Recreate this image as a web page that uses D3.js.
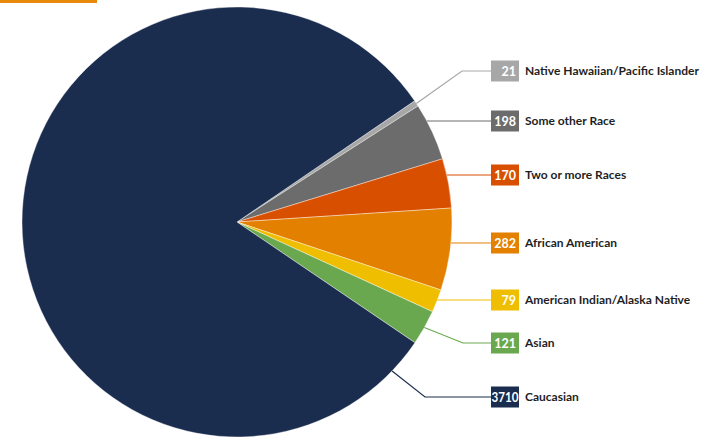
<!DOCTYPE html>
<html>
<head>
<meta charset="utf-8">
<script src="https://cdn.jsdelivr.net/npm/d3@7.9.0/dist/d3.min.js"></script>
<style>
  html, body { margin: 0; padding: 0; background: #fff; }
  svg { display: block; }
  .lbl { font-family: Lato, "Open Sans", sans-serif; font-weight: 700; font-size: 12px; fill: #1f1f1f; }
  .val { font-family: Lato, "Open Sans", sans-serif; font-weight: 700; font-size: 12.5px; fill: #fff; }
</style>
</head>
<body>
<svg id="chart" width="707" height="440"></svg>
<script>
// data, in drawing order (clockwise from the top-right)
const categories = [
  "Native Hawaiian/Pacific Islander",
  "Some other Race",
  "Two or more Races",
  "African American",
  "American Indian/Alaska Native",
  "Asian",
  "Caucasian"
];
const values = [21, 198, 170, 282, 79, 121, 3710];
const colors = ["#a7a7a7", "#6c6c6c", "#d94f00", "#e48000", "#f0be00", "#6aa84f", "#1b2d4f"];

// label layout
const labelY = [71, 121, 175, 243, 300, 343, 397];
const elbowX = [462, null, null, null, null, 463, 425];

function renderPie() {
  const svg = d3.select("#chart");
  const cx = 237, cy = 222, r = 215;
  const start = 55.7 * Math.PI / 180;

  // orange accent bar top-left
  svg.append("rect")
    .attr("x", 0).attr("y", 0)
    .attr("width", 97).attr("height", 3)
    .attr("fill", "#e8890c");

  const data = categories.map((c, i) => ({ label: c, value: values[i], color: colors[i], i }));

  const pie = d3.pie().value((d) => d.value).sort(null)
    .startAngle(start).endAngle(start + 2 * Math.PI);
  const arcs = pie(data);
  const arcGen = d3.arc().innerRadius(0).outerRadius(r);

  const g = svg.append("g").attr("transform", `translate(${cx},${cy})`);
  g.selectAll("path")
    .data(arcs)
    .enter()
    .append("path")
    .attr("d", arcGen)
    .attr("fill", (d) => d.data.color)
    .attr("stroke", "#fff")
    .attr("stroke-width", 0.4);

  const boxX = 491, boxW = 28, boxH = 21;
  const pt = (a) => [cx + r * Math.sin(a), cy - r * Math.cos(a)];

  arcs.forEach((a, i) => {
    const y = labelY[i];
    const y0 = pt(a.startAngle)[1], y1 = pt(a.endAngle)[1];
    let points;
    const inside = a.endAngle - a.startAngle < Math.PI && y >= Math.min(y0, y1) && y <= Math.max(y0, y1);
    if (inside) {
      const dy = y - cy;
      points = [[cx + Math.sqrt(r * r - dy * dy), y], [boxX, y]];
    } else {
      const ang = a.endAngle - a.startAngle < Math.PI
        ? (a.startAngle + a.endAngle) / 2
        : a.startAngle + 9.7 * Math.PI / 180;
      const p = pt(ang);
      points = [p, [elbowX[i], y], [boxX, y]];
    }
    svg.append("path")
      .attr("d", d3.line()(points))
      .attr("fill", "none")
      .attr("stroke", a.data.color)
      .attr("stroke-width", 1.2);

    svg.append("rect")
      .attr("x", boxX).attr("y", y - boxH / 2)
      .attr("width", boxW).attr("height", boxH)
      .attr("fill", a.data.color);

    const t = svg.append("text")
      .attr("class", "val")
      .attr("x", boxX + boxW - 3)
      .attr("y", y + 4.5)
      .attr("text-anchor", "end")
      .text(a.data.value);
    if (t.node().getComputedTextLength() > boxW - 1) {
      t.attr("x", boxX + 0.5).attr("text-anchor", "start")
        .attr("textLength", boxW - 1).attr("lengthAdjust", "spacingAndGlyphs");
    }

    svg.append("text")
      .attr("class", "lbl")
      .attr("x", 525)
      .attr("y", y + 4)
      .text(a.data.label);
  });
}

renderPie();
</script>
</body>
</html>
